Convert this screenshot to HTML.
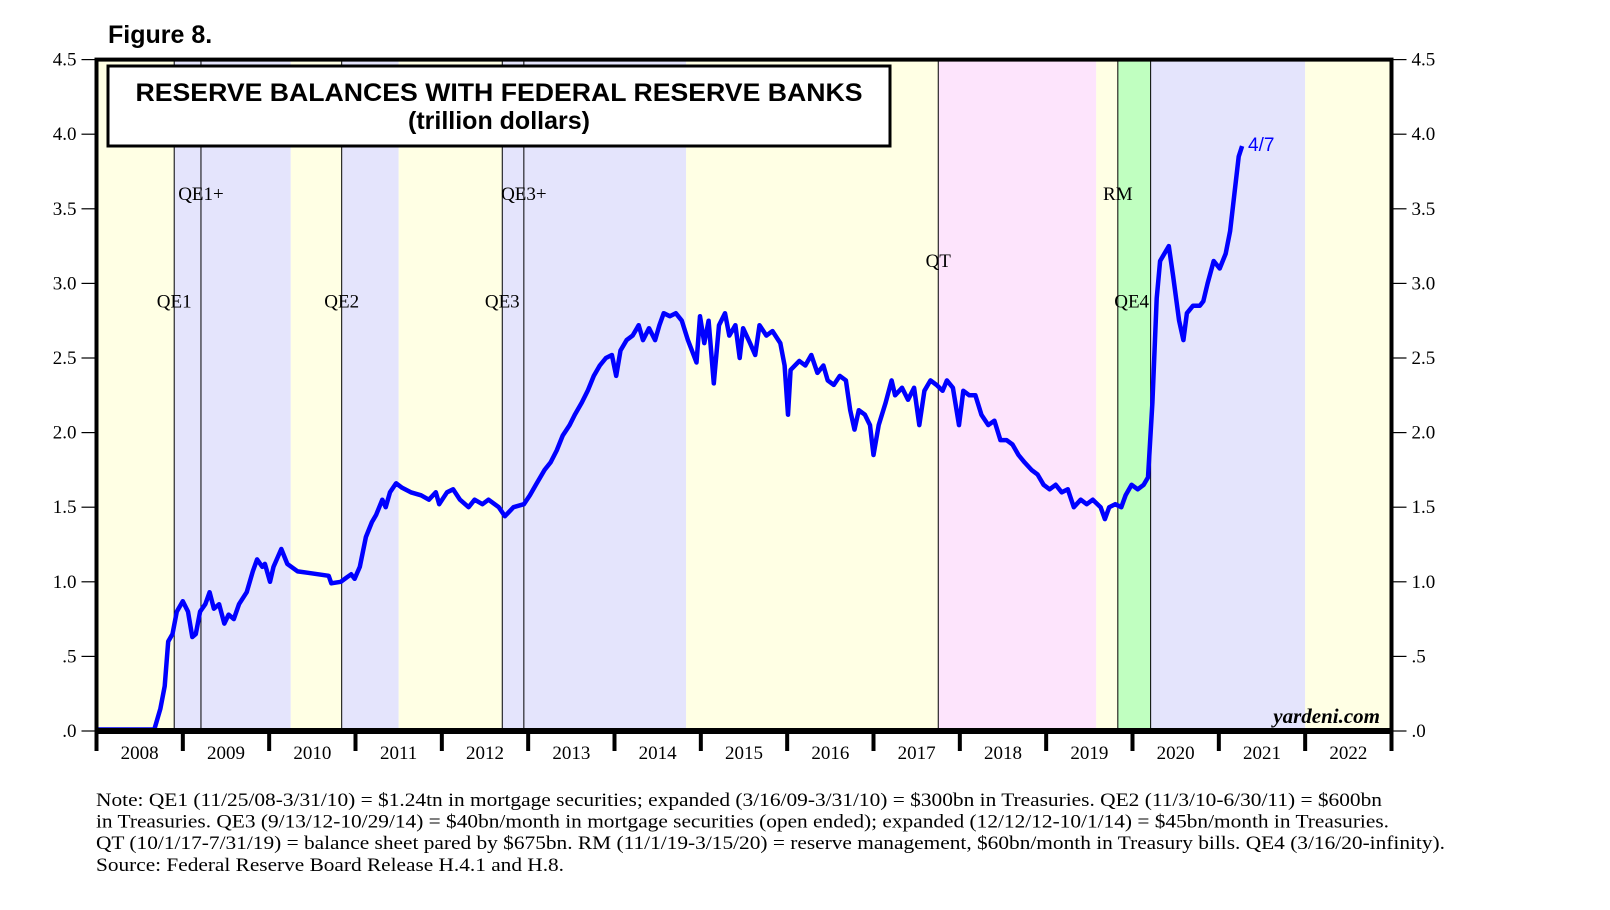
<!DOCTYPE html>
<html><head><meta charset="utf-8"><style>
html,body{margin:0;padding:0;background:#fff;}
svg{display:block;}
</style></head><body>
<svg id="chart" width="1610" height="910" viewBox="0 0 1610 910" xmlns="http://www.w3.org/2000/svg">
<text x="108" y="43" font-family="Liberation Sans, sans-serif" font-weight="bold" font-size="25">Figure 8.</text>
<g id="bands"></g>
<g id="vlines"></g>
<g id="grid"></g>
<path id="series" fill="none" stroke="#0000ff" stroke-width="4.5" stroke-linejoin="round"/>
<rect x="108" y="66" width="782" height="80" fill="#fff" stroke="#000" stroke-width="3"/>
<text x="499" y="101" text-anchor="middle" font-family="Liberation Sans, sans-serif" font-weight="bold" font-size="25" textLength="727" lengthAdjust="spacingAndGlyphs">RESERVE BALANCES WITH FEDERAL RESERVE BANKS</text>
<text x="499" y="129" text-anchor="middle" font-family="Liberation Sans, sans-serif" font-weight="bold" font-size="25">(trillion dollars)</text>
<g id="axes"></g>
<g id="labels" font-family="Liberation Serif, serif" font-size="19"></g>
<text x="1380" y="723" text-anchor="end" font-family="Liberation Serif, serif" font-style="italic" font-weight="bold" font-size="21">yardeni.com</text>
<text x="1248" y="151" font-family="Liberation Sans, sans-serif" font-size="19" fill="#0000ff">4/7</text>
<g font-family="Liberation Serif, serif" font-size="19">
<text x="96" y="806" textLength="1286" lengthAdjust="spacingAndGlyphs">Note: QE1 (11/25/08-3/31/10) = $1.24tn in mortgage securities; expanded (3/16/09-3/31/10) = $300bn in Treasuries. QE2 (11/3/10-6/30/11) = $600bn</text>
<text x="96" y="827.6" textLength="1293" lengthAdjust="spacingAndGlyphs">in Treasuries. QE3 (9/13/12-10/29/14) = $40bn/month in mortgage securities (open ended); expanded (12/12/12-10/1/14) = $45bn/month in Treasuries.</text>
<text x="96" y="849.2" textLength="1349" lengthAdjust="spacingAndGlyphs">QT (10/1/17-7/31/19) = balance sheet pared by $675bn. RM (11/1/19-3/15/20) = reserve management, $60bn/month in Treasury bills. QE4 (3/16/20-infinity).</text>
<text x="96" y="870.8" textLength="468" lengthAdjust="spacingAndGlyphs">Source: Federal Reserve Board Release H.4.1 and H.8.</text>
</g>
</svg>
<script>
const dates=[2008.00,2008.67,2008.74,2008.79,2008.83,2008.88,2008.93,2009.00,2009.06,2009.11,2009.15,2009.20,2009.26,2009.31,2009.36,2009.42,2009.48,2009.53,2009.59,2009.65,2009.74,2009.81,2009.86,2009.92,2009.95,2010.01,2010.05,2010.14,2010.21,2010.33,2010.45,2010.57,2010.69,2010.72,2010.83,2010.90,2010.95,2010.99,2011.05,2011.12,2011.19,2011.24,2011.31,2011.35,2011.40,2011.47,2011.54,2011.64,2011.76,2011.85,2011.93,2011.97,2012.06,2012.13,2012.21,2012.31,2012.38,2012.47,2012.54,2012.66,2012.73,2012.83,2012.95,2013.02,2013.09,2013.19,2013.26,2013.33,2013.40,2013.48,2013.54,2013.62,2013.69,2013.76,2013.83,2013.90,2013.97,2014.02,2014.07,2014.14,2014.21,2014.28,2014.33,2014.40,2014.47,2014.52,2014.57,2014.64,2014.71,2014.78,2014.85,2014.95,2014.99,2015.04,2015.09,2015.15,2015.21,2015.28,2015.33,2015.40,2015.45,2015.49,2015.57,2015.63,2015.68,2015.76,2015.83,2015.92,2015.97,2016.01,2016.04,2016.14,2016.21,2016.28,2016.35,2016.42,2016.47,2016.54,2016.61,2016.68,2016.73,2016.78,2016.83,2016.90,2016.96,2017.00,2017.06,2017.14,2017.21,2017.25,2017.33,2017.40,2017.47,2017.53,2017.59,2017.66,2017.73,2017.80,2017.85,2017.92,2017.99,2018.04,2018.11,2018.18,2018.25,2018.33,2018.40,2018.47,2018.54,2018.61,2018.68,2018.75,2018.83,2018.90,2018.97,2019.04,2019.11,2019.18,2019.25,2019.32,2019.40,2019.47,2019.54,2019.63,2019.68,2019.73,2019.80,2019.87,2019.92,2019.99,2020.06,2020.13,2020.18,2020.23,2020.28,2020.32,2020.37,2020.42,2020.47,2020.54,2020.59,2020.63,2020.70,2020.78,2020.82,2020.87,2020.94,2021.01,2021.08,2021.13,2021.18,2021.23,2021.27];
const values=[0.01,0.01,0.15,0.3,0.6,0.65,0.8,0.87,0.8,0.63,0.65,0.8,0.85,0.93,0.82,0.85,0.72,0.78,0.75,0.85,0.93,1.07,1.15,1.1,1.12,1.0,1.1,1.22,1.12,1.07,1.06,1.05,1.04,0.99,1.0,1.03,1.05,1.02,1.1,1.3,1.4,1.45,1.55,1.5,1.6,1.66,1.63,1.6,1.58,1.55,1.6,1.52,1.6,1.62,1.55,1.5,1.55,1.52,1.55,1.5,1.44,1.5,1.52,1.58,1.65,1.75,1.8,1.88,1.98,2.05,2.12,2.2,2.28,2.38,2.45,2.5,2.52,2.38,2.55,2.62,2.65,2.72,2.62,2.7,2.62,2.72,2.8,2.78,2.8,2.75,2.62,2.47,2.78,2.6,2.75,2.33,2.72,2.8,2.65,2.72,2.5,2.7,2.6,2.52,2.72,2.65,2.68,2.6,2.45,2.12,2.42,2.48,2.45,2.52,2.4,2.45,2.35,2.32,2.38,2.35,2.15,2.02,2.15,2.12,2.05,1.85,2.05,2.2,2.35,2.25,2.3,2.22,2.3,2.05,2.28,2.35,2.32,2.28,2.35,2.3,2.05,2.28,2.25,2.25,2.12,2.05,2.08,1.95,1.95,1.92,1.85,1.8,1.75,1.72,1.65,1.62,1.65,1.6,1.62,1.5,1.55,1.52,1.55,1.5,1.42,1.5,1.52,1.5,1.58,1.65,1.62,1.65,1.7,2.2,2.9,3.15,3.2,3.25,3.05,2.75,2.62,2.8,2.85,2.85,2.88,3.0,3.15,3.1,3.2,3.35,3.6,3.85,3.92];
const yearLabels=["2008","2009","2010","2011","2012","2013","2014","2015","2016","2017","2018","2019","2020","2021","2022"];
const yTicks=[0,0.5,1.0,1.5,2.0,2.5,3.0,3.5,4.0,4.5];
const yTickLabels=[".0",".5","1.0","1.5","2.0","2.5","3.0","3.5","4.0","4.5"];
const bandStarts=[2008.0,2008.90,2010.25,2010.84,2011.5,2012.70,2014.83,2017.75,2019.58,2019.83,2020.21,2022.0];
const bandEnds=[2008.90,2010.25,2010.84,2011.5,2012.70,2014.83,2017.75,2019.58,2019.83,2020.21,2022.0,2023.0];
const bandColors=["#ffffe4","#e4e4fc","#ffffe4","#e4e4fc","#ffffe4","#e4e4fc","#ffffe4","#fde4fc","#ffffe4","#c0ffc0","#e4e4fc","#ffffe4"];
const eventNames=["QE1","QE1+","QE2","QE3","QE3+","QT","RM","QE4"];
const eventDates=[2008.90,2009.21,2010.84,2012.70,2012.95,2017.75,2019.83,2020.21];
const eventLabelDates=[2008.90,2009.21,2010.84,2012.70,2012.95,2017.75,2019.83,2019.99];
const eventLabelLevels=[2.88,3.6,2.88,2.88,3.6,3.15,3.6,2.88];

const L=96.5,R=1391.5,T=59.6,B=731;
const X=t=>L+(t-2008)*(R-L)/15;
const Y=v=>B-v*(B-T)/4.5;
const NS='http://www.w3.org/2000/svg';
function mk(tag,attrs,parent){const e=document.createElementNS(NS,tag);for(const k in attrs)e.setAttribute(k,attrs[k]);parent.appendChild(e);return e;}
const bands=document.getElementById('bands');
for(let i=0;i<bandStarts.length;i++){
  const r=mk('rect',{x:X(bandStarts[i]),y:T,width:X(bandEnds[i])-X(bandStarts[i]),height:B-T,fill:bandColors[i]},bands);
  
  
}
const vl=document.getElementById('vlines'),lab=document.getElementById('labels');
for(let i=0;i<eventDates.length;i++){
  const x=X(eventDates[i]);
  const l=mk('line',{x1:x,x2:x,y1:T,y2:B,stroke:'#000','stroke-width':1},vl);
  
  
  const t=mk('text',{x:X(eventLabelDates[i]),y:Y(eventLabelLevels[i])+6,'text-anchor':'middle'},lab);
  t.textContent=eventNames[i];
  
  
}
let d='';
for(let i=0;i<dates.length;i++)d+=(i?'L':'M')+X(dates[i]).toFixed(1)+','+Y(values[i]).toFixed(1);
document.getElementById('series').setAttribute('d',d);
const ax=document.getElementById('axes');
mk('rect',{x:L,y:T,width:R-L,height:B-T,fill:'none',stroke:'#000','stroke-width':4},ax);
mk('line',{x1:L-2,x2:R+2,y1:B,y2:B,stroke:'#000','stroke-width':6},ax);
for(let i=0;i<yTicks.length;i++){
  const y=Y(yTicks[i]);
  mk('line',{x1:L-15,x2:L,y1:y,y2:y,stroke:'#000','stroke-width':1.2},ax);
  mk('line',{x1:R,x2:R+15,y1:y,y2:y,stroke:'#000','stroke-width':1.2},ax);
  const a=mk('text',{x:L-20,y:y+6,'text-anchor':'end','font-family':'Liberation Serif, serif','font-size':19},ax);
  a.textContent=yTickLabels[i];
  
  
  const b=mk('text',{x:R+20,y:y+6,'font-family':'Liberation Serif, serif','font-size':19},ax);
  b.textContent=yTickLabels[i];
  
  
}
for(let i=0;i<=yearLabels.length;i++){
  const x=X(2008+i);
  mk('line',{x1:x,x2:x,y1:B,y2:B+20,stroke:'#000','stroke-width':4},ax);
  if(i<yearLabels.length){
    const t=mk('text',{x:X(2008.5+i),y:B+28,'text-anchor':'middle','font-family':'Liberation Serif, serif','font-size':19},ax);
    t.textContent=yearLabels[i];
    
    
  }
}
</script>
</body></html>
